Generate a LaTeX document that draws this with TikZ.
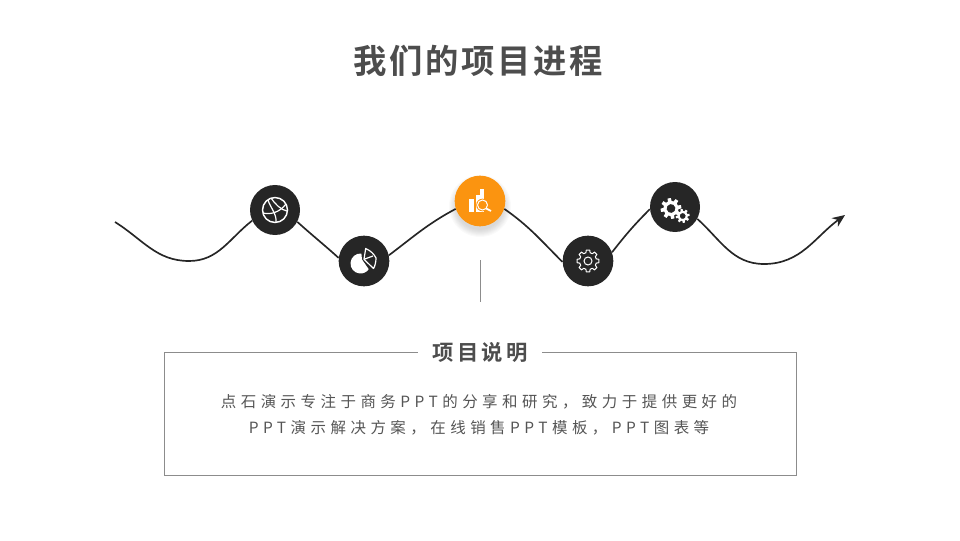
\documentclass[tikz,border=0pt]{standalone}
\usepackage{fontspec}
\setmainfont{Noto Sans CJK SC}
\newfontfamily\titlefont[LetterSpace=8,BoldFont={Noto Sans CJK SC Bold}]{Noto Sans CJK SC}
\newfontfamily\headfont[LetterSpace=15,BoldFont={Noto Sans CJK SC Bold}]{Noto Sans CJK SC}
\newfontfamily\bodyfont[LetterSpace=29]{Noto Sans CJK SC}
\usetikzlibrary{arrows.meta}

\definecolor{inkdark}{HTML}{262626}
\definecolor{inkgray}{HTML}{4D4D4D}
\definecolor{inkbody}{HTML}{555555}
\definecolor{inkline}{HTML}{8C8C8C}
\definecolor{inkorange}{HTML}{FB9410}

% outer radius, inner radius, number of teeth
\newcommand{\gearpath}[3]{(0.2*360/#3:#1) \foreach \t in {1,...,#3} {
	-- ({(\t-1+0.2)*360/#3}:#1) -- ({(\t-1+0.32)*360/#3}:#2) -- ({(\t-1+0.68)*360/#3}:#2)
	-- ({(\t-1+0.8)*360/#3}:#1) -- ({(\t-1+1.2)*360/#3}:#1) } -- cycle}

\begin{document}
\begin{tikzpicture}
	% Styles
	[
	x=0.75pt, y=0.75pt,
	stop/.style={circle, inner sep=0pt, minimum size=37.5pt, fill=inkdark},
	hot/.style={circle, inner sep=0pt, minimum size=38pt, fill=inkorange},
	wave/.style={draw=inkdark, line width=1.25pt},
	icon/.style={draw=white, line width=1.1pt},
	thin rule/.style={draw=inkline, line width=0.75pt},
	title/.style={font=\titlefont\fontsize{25}{30}\selectfont\bfseries, text=inkgray, inner sep=0pt},
	head/.style={font=\headfont\fontsize{16}{19}\selectfont\bfseries, text=inkgray, fill=white, inner sep=0pt, minimum width=93pt, minimum height=20pt},
	body/.style={font=\bodyfont\fontsize{11.6}{14}\selectfont, text=inkbody, inner sep=0pt}
	]
	\useasboundingbox (0,0) rectangle (960,540);

	% Shadow
	\foreach \r in {24,25,...,31}
		\fill[black, opacity=0.018] (480,334) circle (\r);

	% Nodes
	\node at (478.5,479)	(title)		[title] {我们的项目进程};
	\node at (275,330)	(ball)		[stop] {};
	\node at (364,279)	(pie)		[stop, minimum size=38pt] {};
	\node at (480,339)	(chart)		[hot] {};
	\node at (588,279)	(gear)		[stop, minimum size=38pt] {};
	\node at (675,333)	(gears)		[stop] {};
	\node at (480.5,126.5)	(box)		[rectangle, thin rule, minimum width=474pt, minimum height=92.25pt] {};
	\node at (480,188)	(head)		[head] {项目说明};
	\node at (479,138.5)	(line1)		[body] {点石演示专注于商务PPT的分享和研究，致力于提供更好的};
	\node at (479,112.5)	(line2)		[body] {PPT演示解决方案，在线销售PPT模板，PPT图表等};

	\coordinate (start) at (115,318);
	\coordinate (low1) at (189,279);
	\coordinate (low2) at (764,276);
	\coordinate (tip) at (845,325);
	\coordinate (tick1) at (480,280);
	\coordinate (tick2) at (480,238);

	% Connections
	\draw[wave] (start) to[out=-32,in=180] (low1) to[out=0,in=218] (ball.205);
	\draw[wave] (ball.-28) to[out=-42,in=138] (pie.173);
	\draw[wave] (pie.13) to[out=37,in=208] (chart.198);
	\draw[wave] (chart.-18) to[out=-35,in=135] (gear.182);
	\draw[wave] (gear.20) to[out=52,in=-135] (gears.185);
	\draw[wave] (gears.-28) to[out=-42,in=180] (low2);
	\draw[wave, -{Stealth[length=9.5pt,width=8pt]}] (low2) to[out=0,in=216] (tip);
	\draw[thin rule] (tick1) -- (tick2);

	% Icons
	\begin{scope}[shift={(ball)}]
		\draw[icon] (0,0) circle (12.5);
		\draw[icon, line width=0.9pt] (-12,-3) .. controls (-4,-5) and (5,-2) .. (11,6);
		\draw[icon, line width=0.9pt] (-7,10) .. controls (-5,3) and (2,-4) .. (1,-12.5);
		\draw[icon, line width=0.9pt] (-4,12) .. controls (0,6) and (6,0) .. (12,-1);
	\end{scope}
	\begin{scope}[shift={(pie)}]
		\fill[white] (-3.5,-2.5) ++(85:10) arc (85:325:10) -- (-2,1.5) -- cycle;
		\draw[icon, line width=0.9pt, line join=round] (0,1.7) -- (1.7,12.5) .. controls (7,10) and (10,7) .. (12,3) .. controls (12,-1) and (11,-5) .. (9.5,-7.5) -- cycle;
		\draw[icon, line width=0.9pt] (9,5) -- (0,1.7);
	\end{scope}
	\begin{scope}[shift={(chart)}]
		\fill[white] (-11,-11) rectangle (-6.5,1.5);
		\fill[white] (-4.5,-11) rectangle (-0.5,6);
		\fill[white] (0,-11) rectangle (4,12);
		\fill[inkorange] (2.5,-4) circle (6.3);
		\draw[icon, line width=0.75pt] (2.5,-4) circle (5);
		\draw[white, line width=1.3pt] (6.2,-7.5) -- (11,-10);
	\end{scope}
	\begin{scope}[shift={(gear)}]
		\draw[icon, line width=0.75pt, line join=round] \gearpath{11}{8.5}{8};
		\draw[icon, line width=0.75pt] (0,0) circle (4);
	\end{scope}
	\begin{scope}[shift={(gears)}]
		\fill[white, even odd rule, shift={(-4,-1.5)}, rotate=10] \gearpath{10.5}{7.5}{8} (0,0) circle (4.5);
		\fill[white, even odd rule, shift={(7.7,-9)}, rotate=10] \gearpath{7}{5}{8} (0,0) circle (3);
	\end{scope}

\end{tikzpicture}
\end{document}
